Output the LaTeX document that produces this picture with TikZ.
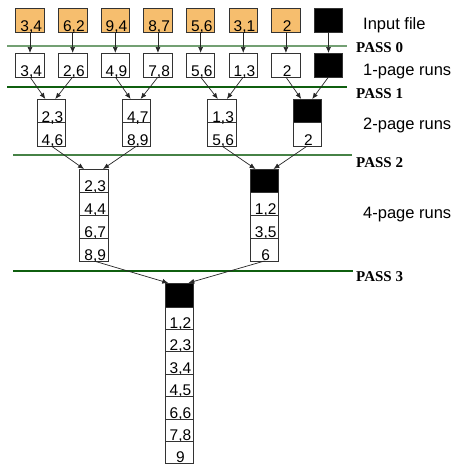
\documentclass[tikz,border=0pt]{standalone}
\usepackage{fontspec}
\setmainfont{Liberation Serif}
\setsansfont{Liberation Sans}
\usetikzlibrary{arrows.meta}
\definecolor{orng}{RGB}{246,190,110}
\definecolor{gLight}{RGB}{115,160,115}
\definecolor{gDark}{RGB}{15,95,15}
\definecolor{gMid}{RGB}{70,130,70}
\tikzset{
  cell/.style={draw=black!80, line width=0.8pt, minimum width=28.5pt, minimum height=#1, inner sep=0pt, outer sep=0pt},
  cell/.default=23.5pt,
  num/.style={font=\sffamily\fontsize{15.5}{18}\selectfont, inner sep=0pt, anchor=base, xshift=1.2pt},
  lbl/.style={font=\sffamily\fontsize{16.5}{19}\selectfont, inner sep=0pt, anchor=west},
  passlbl/.style={font=\bfseries\fontsize{15}{18}\selectfont, inner sep=0pt, anchor=west},
  arr/.style={draw=black!85, line width=0.7pt, -{Latex[length=6pt,width=5pt]}},
}
\begin{document}
\begin{tikzpicture}[x=1pt,y=-1pt]
\useasboundingbox (0,0) rectangle (455,466);
\fill[white] (0,0) rectangle (455,466);
\clip (0,0) rectangle (455,466);

% pass lines
\draw[gLight, line width=1.3pt] (7,46) -- (347,46);
\draw[gDark, line width=2pt] (7,87) -- (347,87);
\draw[gMid, line width=1.2pt] (13,155) -- (352,155);
\draw[gDark, line width=1.5pt] (13,271) -- (353,271);

\node[passlbl] (p0) at (356,48) {PASS 0};
\node[passlbl] (p1) at (356,94) {PASS 1};
\node[passlbl] (p2) at (356,163) {PASS 2};
\node[passlbl] (p3) at (356,277) {PASS 3};

\node[lbl] (l0) at (363,25) {Input file};
\node[lbl] (l1) at (363,72) {1-page runs};
\node[lbl] (l2) at (363,125) {2-page runs};
\node[lbl] (l4) at (363,215) {4-page runs};

% input file
\foreach \i/\v in {1/{3,4},2/{6,2},3/{9,4},4/{8,7},5/{5,6},6/{3,1},7/{2}} {
  \node[cell=24pt, fill=orng] (in\i) at ({30+42.65*(\i-1)},20) {};
  \node[num] (tin\i) at ([yshift=0.5pt]in\i.south) {\v};
}
\node[cell=24pt, fill=black] (in8) at (328.5,20) {};

% 1-page runs
\foreach \i/\v in {1/{3,4},2/{2,6},3/{4,9},4/{7,8},5/{5,6},6/{1,3},7/{2}} {
  \node[cell=24pt] (r\i) at ({30+42.65*(\i-1)},65) {};
  \node[num] (tr\i) at ([yshift=0.5pt]r\i.south) {\v};
}
\node[cell=24pt, fill=black] (r8) at (328.5,65) {};

\foreach \i in {1,...,8} \draw[arr] (in\i) -- (r\i);

% 2-page runs
\node[cell] (a1) at (51.3,110.75) {};
\node[cell] (a2) at (51.3,134.25) {};
\node[cell] (b1) at (136.6,110.75) {};
\node[cell] (b2) at (136.6,134.25) {};
\node[cell] (c1) at (221.9,110.75) {};
\node[cell] (c2) at (221.9,134.25) {};
\node[cell, fill=black] (d1) at (307.2,110.75) {};
\node[cell] (d2) at (307.2,134.25) {};
\node[num] (ta1) at ([yshift=0.5pt]a1.south) {2,3};
\node[num] (ta2) at ([yshift=0.5pt]a2.south) {4,6};
\node[num] (tb1) at ([yshift=0.5pt]b1.south) {4,7};
\node[num] (tb2) at ([yshift=0.5pt]b2.south) {8,9};
\node[num] (tc1) at ([yshift=0.5pt]c1.south) {1,3};
\node[num] (tc2) at ([yshift=0.5pt]c2.south) {5,6};
\node[num] (td2) at ([yshift=0.5pt]d2.south) {2};

\draw[arr] (r1.south) -- ([xshift=-6pt]a1.north);
\draw[arr] (r2.south) -- ([xshift=4pt]a1.north);
\draw[arr] (r3.south) -- ([xshift=-6pt]b1.north);
\draw[arr] (r4.south) -- ([xshift=4pt]b1.north);
\draw[arr] (r5.south) -- ([xshift=-4pt]c1.north);
\draw[arr] (r6.south) -- ([xshift=5pt]c1.north);
\draw[arr] (r7.south) -- ([xshift=-6pt]d1.north);
\draw[arr] (r8.south) -- ([xshift=5pt]d1.north);

% 4-page runs
\foreach \k/\v in {1/{2,3},2/{4,4},3/{6,7},4/{8,9}} {
  \node[cell=23pt] (e\k) at (94,{180.5+23*(\k-1)}) {};
  \node[num] (te\k) at ([yshift=0.5pt]e\k.south) {\v};
}
\node[cell=23pt, fill=black] (f1) at (264.5,180.5) {};
\foreach \k/\v in {2/{1,2},3/{3,5},4/{6}} {
  \node[cell=23pt] (f\k) at (264.5,{180.5+23*(\k-1)}) {};
  \node[num] (tf\k) at ([yshift=0.5pt]f\k.south) {\v};
}
\draw[arr] (a2.south) -- ([xshift=-10pt]e1.north);
\draw[arr] (b2.south) -- ([xshift=9pt]e1.north);
\draw[arr] (c2.south) -- ([xshift=-9pt]f1.north);
\draw[arr] (d2.south) -- ([xshift=9pt]f1.north);

% 8-page run
\node[cell=24pt, fill=black] (g1) at (179.3,295) {};
\foreach \k/\v in {2/{1,2},3/{2,3},4/{3,4},5/{4,5},6/{6,6},7/{7,8},8/{9}} {
  \node[cell=22.4pt] (g\k) at (179.3,{318.2+22.4*(\k-2)}) {};
  \node[num] (tg\k) at ([yshift=1pt]g\k.south) {\v};
}
\draw[arr] (e4.south) -- ([xshift=-11pt]g1.north);
\draw[arr] (f4.south) -- ([xshift=9pt]g1.north);
\end{tikzpicture}
\end{document}
